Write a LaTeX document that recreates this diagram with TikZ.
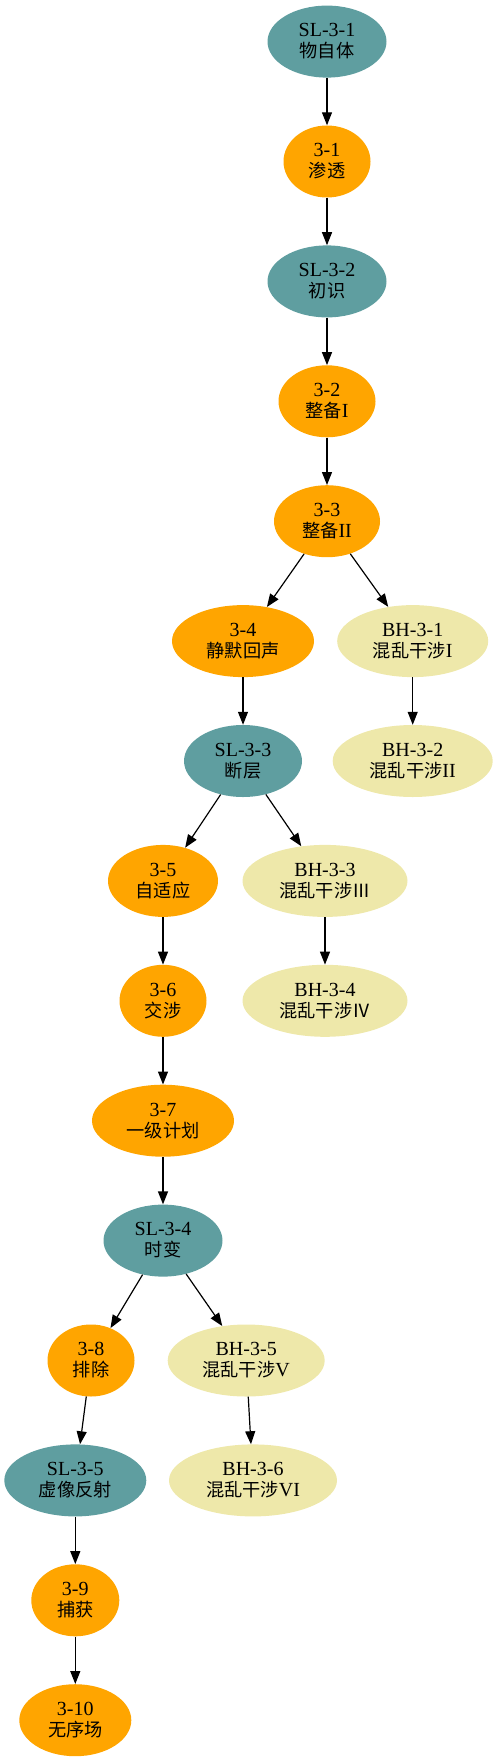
\documentclass[tikz,border=0pt]{standalone}
\usepackage{fontspec}
\setmainfont{Liberation Serif}
\newfontfamily\cjk{Noto Sans CJK SC}[Scale=0.91]
\usetikzlibrary{shapes.geometric,arrows.meta}
\definecolor{slcol}{HTML}{5F9EA0}
\definecolor{stcol}{HTML}{FFA500}
\definecolor{bhcol}{HTML}{EEE8AA}
\tikzset{>={Triangle[length=13pt,width=10pt]},
  gnode/.style={ellipse, inner sep=0pt, minimum height=72pt, align=center, font=\fontsize{20}{21}\selectfont},
  slnode/.style={gnode, fill=slcol},
  stnode/.style={gnode, fill=stcol},
  bhnode/.style={gnode, fill=bhcol},
  link/.style={->, line width=1.2pt}}

\begin{document}
\begin{tikzpicture}[x=1pt,y=-1pt]
    \useasboundingbox (0,0) rectangle (497,1763);
    % main line
    \node[slnode, minimum width=119pt] (sl1) at (327,41.6) {SL-3-1\\{\cjk 物自体}};
    \node[stnode, minimum width=87pt] (s1) at (327,161.5) {3-1\\{\cjk 渗透}};
    \node[slnode, minimum width=119pt] (sl2) at (327,281.4) {SL-3-2\\{\cjk 初识}};
    \node[stnode, minimum width=97pt] (s2) at (327,401.3) {3-2\\{\cjk 整备}I};
    \node[stnode, minimum width=106pt] (s3) at (327,521.2) {3-3\\{\cjk 整备}II};
    \node[stnode, minimum width=142pt] (s4) at (243,641.1) {3-4\\{\cjk 静默回声}};
    \node[slnode, minimum width=118pt] (sl3) at (243,761) {SL-3-3\\{\cjk 断层}};
    \node[stnode, minimum width=110pt] (s5) at (163,880.9) {3-5\\{\cjk 自适应}};
    \node[stnode, minimum width=87pt] (s6) at (163,1000.8) {3-6\\{\cjk 交涉}};
    \node[stnode, minimum width=142pt] (s7) at (163,1120.7) {3-7\\{\cjk 一级计划}};
    \node[slnode, minimum width=119pt] (sl4) at (163,1240.6) {SL-3-4\\{\cjk 时变}};
    \node[stnode, minimum width=87pt] (s8) at (91,1360.5) {3-8\\{\cjk 排除}};
    \node[slnode, minimum width=142pt] (sl5) at (75.3,1480.4) {SL-3-5\\{\cjk 虚像反射}};
    \node[stnode, minimum width=88pt] (s9) at (75.3,1600.3) {3-9\\{\cjk 捕获}};
    \node[stnode, minimum width=112pt] (s10) at (75.3,1720.2) {3-10\\{\cjk 无序场}};

    % side branches
    \node[bhnode, minimum width=151pt] (bh1) at (412.7,641.1) {BH-3-1\\{\cjk 混乱干涉}I};
    \node[bhnode, minimum width=160pt] (bh2) at (412.7,761) {BH-3-2\\{\cjk 混乱干涉}II};
    \node[bhnode, minimum width=165pt] (bh3) at (325,880.9) {BH-3-3\\{\cjk 混乱干涉Ⅲ}};
    \node[bhnode, minimum width=165pt] (bh4) at (325,1000.8) {BH-3-4\\{\cjk 混乱干涉Ⅳ}};
    \node[bhnode, minimum width=157pt] (bh5) at (246.2,1360.5) {BH-3-5\\{\cjk 混乱干涉}V};
    \node[bhnode, minimum width=168pt] (bh6) at (253,1480.4) {BH-3-6\\{\cjk 混乱干涉}VI};

    \draw[link] (sl1) -- (s1);
    \draw[link] (s1) -- (sl2);
    \draw[link] (sl2) -- (s2);
    \draw[link] (s2) -- (s3);
    \draw[link] (s3) -- (s4);
    \draw[link] (s3) -- (bh1);
    \draw[link] (bh1) -- (bh2);
    \draw[link] (s4) -- (sl3);
    \draw[link] (sl3) -- (s5);
    \draw[link] (sl3) -- (bh3);
    \draw[link] (bh3) -- (bh4);
    \draw[link] (s5) -- (s6);
    \draw[link] (s6) -- (s7);
    \draw[link] (s7) -- (sl4);
    \draw[link] (sl4) -- (s8);
    \draw[link] (sl4) -- (bh5);
    \draw[link] (bh5) -- (bh6);
    \draw[link] (s8) -- (sl5);
    \draw[link] (sl5) -- (s9);
    \draw[link] (s9) -- (s10);
\end{tikzpicture}
\end{document}
